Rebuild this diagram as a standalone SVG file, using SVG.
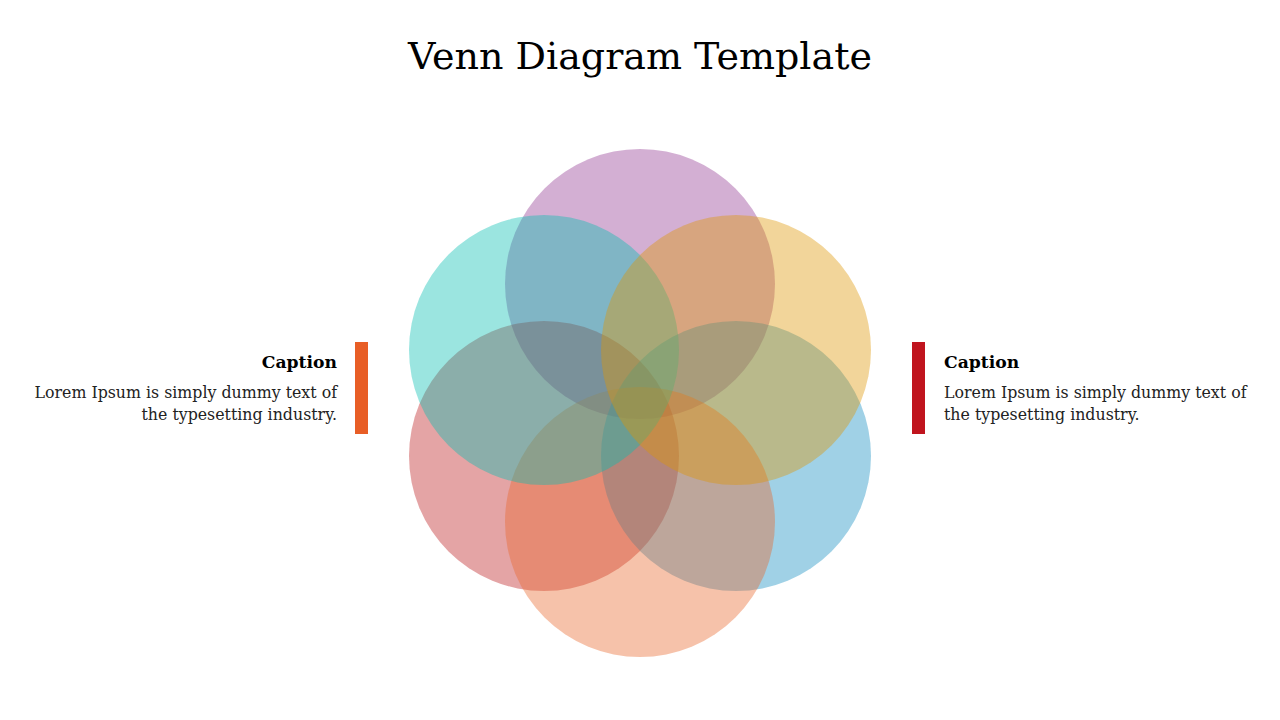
<svg xmlns="http://www.w3.org/2000/svg" width="1280" height="720" viewBox="0 0 1280 720">
  <style>
    .c { fill-opacity: 0.4; stroke: none; }
    .title { font-family: "DejaVu Serif", "Liberation Serif", serif; font-size: 38px; fill: #000; }
    .cap { font-family: "DejaVu Serif", "Liberation Serif", serif; font-weight: bold; font-size: 17.2px; fill: #000; }
    .body { font-family: "DejaVu Serif", "Liberation Serif", serif; font-size: 15.8px; fill: #222; }
  </style>
  <rect width="1280" height="720" fill="#ffffff"/>
  <text class="title" x="640" y="69" text-anchor="middle">Venn Diagram Template</text>

  <g id="venn">
    <g id="circle-purple"><circle class="c" cx="640" cy="284" r="135" fill="#913791"/></g>
    <g id="circle-pink"><circle class="c" cx="544" cy="456" r="135" fill="#BB1C1E"/></g>
    <g id="circle-blue"><circle class="c" cx="736" cy="456" r="135" fill="#118CC0"/></g>
    <g id="circle-orange"><circle class="c" cx="640" cy="522" r="135" fill="#E8662A"/></g>
    <g id="circle-teal"><circle class="c" cx="544" cy="350" r="135" fill="#05BEB2"/></g>
    <g id="circle-yellow"><circle class="c" cx="736" cy="350" r="135" fill="#DE9603"/></g>
  </g>

  <g id="caption-left">
    <rect x="355" y="342" width="13" height="92" fill="#E85E26"/>
    <text class="cap" x="337" y="368" text-anchor="end">Caption</text>
    <text class="body" x="337" y="398" text-anchor="end">Lorem Ipsum is simply dummy text of</text>
    <text class="body" x="337" y="420" text-anchor="end">the typesetting industry.</text>
  </g>

  <g id="caption-right">
    <rect x="912" y="342" width="13" height="92" fill="#C0141E"/>
    <text class="cap" x="944" y="368">Caption</text>
    <text class="body" x="944" y="398">Lorem Ipsum is simply dummy text of</text>
    <text class="body" x="944" y="420">the typesetting industry.</text>
  </g>
</svg>
